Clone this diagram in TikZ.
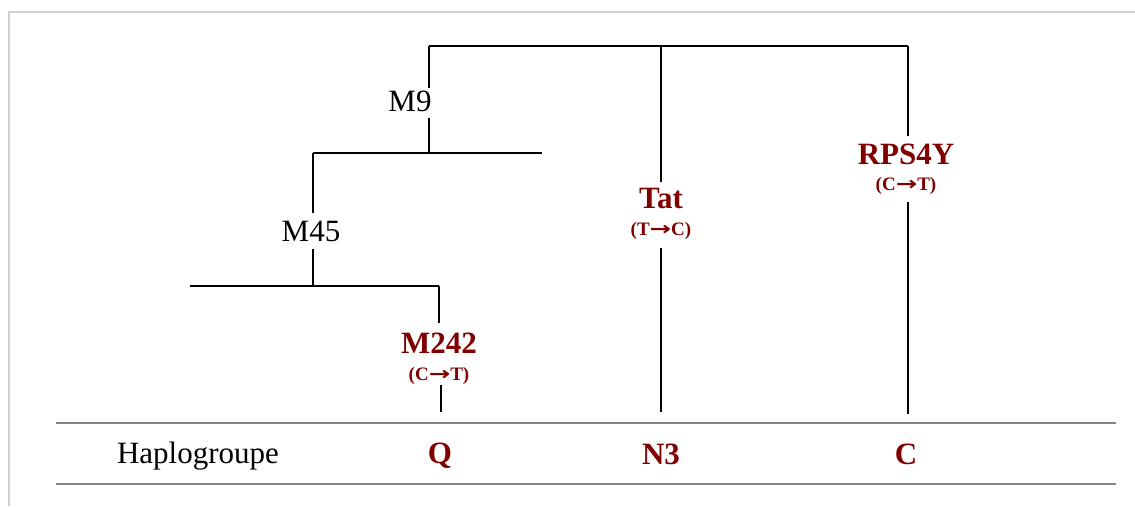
\documentclass[tikz,border=0pt]{standalone}
\usepackage{fontspec}
\setmainfont{Liberation Serif}
\newfontfamily\arrowfont{DejaVu Sans}
\definecolor{darkred}{HTML}{800000}
\definecolor{framegray}{HTML}{D0D0D0}
\definecolor{rulegray}{HTML}{858585}
\newcommand{\mutarrow}{{\arrowfont\bfseries\scalebox{1.35}[1]{→}}}
\begin{document}
\begin{tikzpicture}[x=1pt,y=-1pt,
  branch/.style={line width=2.4pt,black},
  plain/.style={inner sep=0pt,font=\fontsize{31}{33}\selectfont},
  mutname/.style={inner sep=0pt,text=darkred,font=\fontsize{31}{33}\selectfont\bfseries},
  mutsub/.style={inner sep=0pt,text=darkred,font=\fontsize{19}{21}\selectfont\bfseries},
  group/.style={inner sep=0pt,text=darkred,font=\fontsize{31}{33}\selectfont\bfseries},
  tablerule/.style={line width=2pt,rulegray},
  framerule/.style={line width=2pt,framegray}]
\useasboundingbox (0,0) rectangle (1135,506);
% frame
\coordinate (fa) at (9,506);
\coordinate (fb) at (9,12);
\coordinate (fc) at (1135,12);
\draw[framerule] (fa) -- (fb) -- (fc);
% table rules
\coordinate (r1a) at (56,423);
\coordinate (r1b) at (1116,423);
\coordinate (r2a) at (56,484);
\coordinate (r2b) at (1116,484);
\draw[tablerule] (r1a) -- (r1b);
\draw[tablerule] (r2a) -- (r2b);
% tree coordinates
\coordinate (topL) at (429,46);
\coordinate (topM) at (661,46);
\coordinate (topR) at (908,46);
\coordinate (m9a) at (429,88);
\coordinate (m9b) at (429,118);
\coordinate (n2) at (429,153);
\coordinate (h2L) at (313,153);
\coordinate (h2R) at (542,153);
\coordinate (m45a) at (313,213);
\coordinate (m45b) at (313,249);
\coordinate (n3) at (313,286);
\coordinate (h3L) at (190,286);
\coordinate (h3R) at (439,286);
\coordinate (qa) at (439,323);
\coordinate (qb) at (441,385);
\coordinate (qe) at (441,412);
\coordinate (na) at (661,182);
\coordinate (nb) at (661,248);
\coordinate (ne) at (661,412);
\coordinate (ca) at (908,136);
\coordinate (cb) at (908,202);
\coordinate (ce) at (908,414);
% labels
\node[plain] (m9) at (410,101) {M9};
\node[plain] (m45) at (311,231) {M45};
\node[mutname] (m242) at (439,343) {M242};
\node[mutsub] (m242s) at (439,376) {(C\mutarrow T)};
\node[mutname] (tat) at (661,198) {Tat};
\node[mutsub] (tats) at (661,231) {(T\mutarrow C)};
\node[mutname] (rps) at (906,154) {RPS4Y};
\node[mutsub] (rpss) at (906,186) {(C\mutarrow T)};
\node[plain] (hap) at (198,456) {Haplogroupe};
\node[group] (gq) at (440,456) {Q};
\node[group] (gn) at (661,454) {N3};
\node[group] (gc) at (906,454) {C};
% branches
\draw[branch] (topL) -- (topR);
\draw[branch] (topL) -- (m9a);
\draw[branch] (m9b) -- (n2);
\draw[branch] (h2L) -- (h2R);
\draw[branch] (h2L) -- (m45a);
\draw[branch] (m45b) -- (n3);
\draw[branch] (h3L) -- (h3R);
\draw[branch] (h3R) -- (qa);
\draw[branch] (qb) -- (qe);
\draw[branch] (topM) -- (na);
\draw[branch] (nb) -- (ne);
\draw[branch] (topR) -- (ca);
\draw[branch] (cb) -- (ce);
\end{tikzpicture}
\end{document}
